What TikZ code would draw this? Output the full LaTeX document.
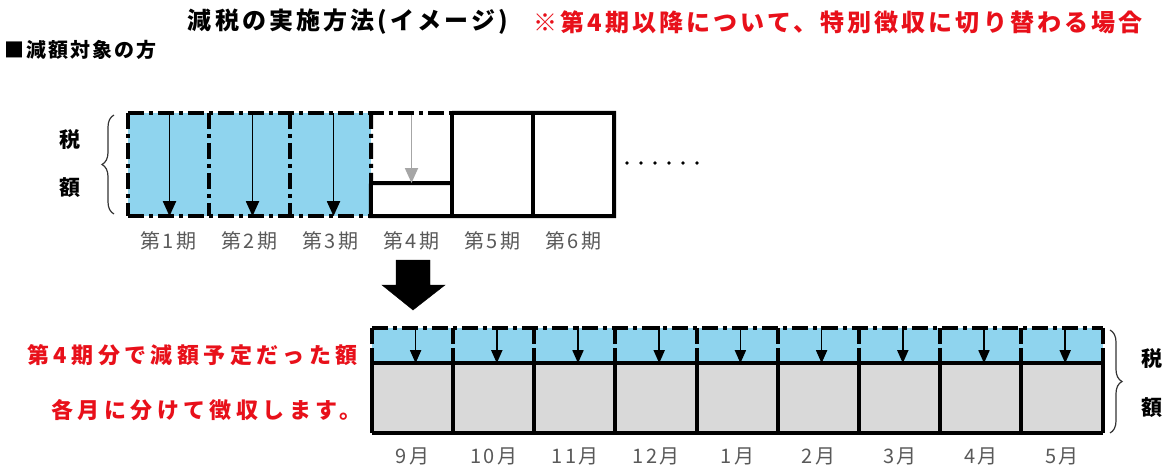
\documentclass[tikz,border=0pt]{standalone}
\usepackage{fontspec}
\setmainfont{Noto Sans CJK JP}
\usetikzlibrary{arrows.meta,decorations.pathreplacing}
\definecolor{skyb}{HTML}{8FD4EE}
\definecolor{lgray}{HTML}{D9D9D9}
\definecolor{tred}{HTML}{E8101A}
\definecolor{lbl}{HTML}{595959}
\tikzset{
  dd/.style={line width=4pt, dash pattern=on 16pt off 5pt on 4pt off 5pt},
  solidl/.style={line width=4pt},
  cellf/.style={draw=none, inner sep=0pt, minimum width=81pt},
  darr/.style={line width=1.8pt, -{Triangle[width=13pt,length=15pt]}},
  sarr/.style={line width=1.6pt, -{Triangle[width=11pt,length=13pt]}},
  garr/.style={line width=1.8pt, draw=gray!70, -{Triangle[width=13pt,length=15pt]}},
  plabel/.style={text=lbl, font=\fontsize{20}{22}\selectfont\addfontfeature{LetterSpace=12}},
  zei/.style={font=\bfseries\fontsize{21}{23}\selectfont},
  brc/.style={decorate, decoration={brace, amplitude=12pt}, line width=1.2pt, draw=black!80},
  redtxt/.style={font=\bfseries\fontsize{22}{24}\selectfont\addfontfeature{LetterSpace=20}, text=tred, anchor=east, inner sep=0pt},
}
\begin{document}
\begin{tikzpicture}[x=1pt,y=-1pt]
\useasboundingbox (0,0) rectangle (1168,469);
% titles
\node[font=\bfseries\fontsize{24}{26}\selectfont\addfontfeature{LetterSpace=13}] (t1) at (348,22) {減税の実施方法(イメージ)};
\node[font=\bfseries\fontsize{24}{26}\selectfont\addfontfeature{LetterSpace=13}, text=tred] (t2) at (838,22) {※第4期以降について、特別徴収に切り替わる場合};
\node[font=\bfseries\fontsize{20}{22}\selectfont\addfontfeature{LetterSpace=10}, anchor=west, inner sep=0pt] (t3) at (4,50) {■減額対象の方};
% top row cells
\foreach \i/\c in {1/skyb,2/skyb,3/skyb,4/white,5/white,6/white}{
  \node[cellf, fill=\c, minimum height=103pt] (p\i) at ({128+81*(\i-1)+40.5},164.5) {};
}
\coordinate (p4m) at (371,183);
\coordinate (p4r) at (452,183);
% solid lines top row
\draw[solidl] (p4.north east) -- (p6.north east) -- (p6.south east) -- (p4.south west) -- (p4m) -- (p4r);
\draw[solidl] (p4.north east) -- (p4.south east);
\draw[solidl] (p5.north east) -- (p5.south east);
% dash-dot lines top row
\draw[dd] (p1.north west) -- (p4.north east);
\draw[dd] (p1.south west) -- (p3.south east);
\draw[dd] (p1.north west) -- (p1.south west);
\draw[dd] (p2.north west) -- (p2.south west);
\draw[dd] (p3.north west) -- (p3.south west);
\draw[dd] (p3.north east) -- (p4m);
% arrows top row
\draw[darr] (p1.north) ++(1,0) coordinate (a1s) (a1s) -- (a1s |- p1.south);
\draw[darr] (p2.north) ++(3,0) coordinate (a2s) (a2s) -- (a2s |- p2.south);
\draw[darr] (p3.north) ++(3,0) coordinate (a3s) (a3s) -- (a3s |- p3.south);
\draw[garr] (p4.north) ++(0,2) coordinate (a4s) (a4s) -- (a4s |- p4m);
% dots
\foreach \k in {0,...,5}{\fill (627+14*\k,163) circle (1.9pt);}
% period labels
\foreach \i in {1,...,6}{\node[plabel] (pl\i) at ([yshift=-25pt]p\i.south) {第\i 期};}
% left brace
\coordinate (lbt) at (114,115);
\coordinate (lbb) at (114,214);
\draw[brc] (lbb) -- (lbt);
\node[zei] (z1) at (70,140) {税};
\node[zei] (z2) at (70,188) {額};
% big arrow
\draw[fill=black] (396,260) -- (430,260) -- (430,285) -- (445,285) -- (413,310) -- (382,285) -- (396,285) -- cycle;
% bottom row
\foreach \i/\m in {1/9,2/10,3/11,4/12,5/1,6/2,7/3,8/4,9/5}{
  \node[cellf, fill=skyb, minimum width=81.2pt, minimum height=35pt] (b\i) at ({372+81.2*(\i-1)+40.6},345.5) {};
  \node[cellf, fill=lgray, minimum width=81.2pt, minimum height=70pt] (g\i) at ({372+81.2*(\i-1)+40.6},398) {};
  \node[plabel] (ml\i) at ([yshift=-23pt]g\i.south) {\m 月};
}
\draw[solidl] (b1.south west) -- (b9.south east);
\draw[solidl] (g1.south west) -- (g9.south east);
\foreach \i in {1,...,9}{
  \draw[solidl] ([yshift=15pt]g\i.north west) -- (g\i.south west);
  \draw[dd] (b\i.north west) -- ([yshift=15pt]g\i.north west);
  \draw[sarr] ([xshift=3pt,yshift=2pt]b\i.north) -- ([xshift=3pt]b\i.south);
}
\draw[solidl] ([yshift=15pt]g9.north east) -- (g9.south east);
\draw[dd] (b9.north east) -- ([yshift=15pt]g9.north east);
\draw[dd] (b1.north west) -- (b9.north east);
% right brace
\coordinate (rbt) at (1110,330);
\coordinate (rbb) at (1110,433);
\draw[brc] (rbt) -- (rbb);
\node[zei] (z3) at (1152,359) {税};
\node[zei] (z4) at (1152,408) {額};
% left red text
\node[redtxt] (r1) at (358,355) {第4期分で減額予定だった額};
\node[redtxt] (r2) at (362,410) {各月に分けて徴収します。};
\end{tikzpicture}
\end{document}
